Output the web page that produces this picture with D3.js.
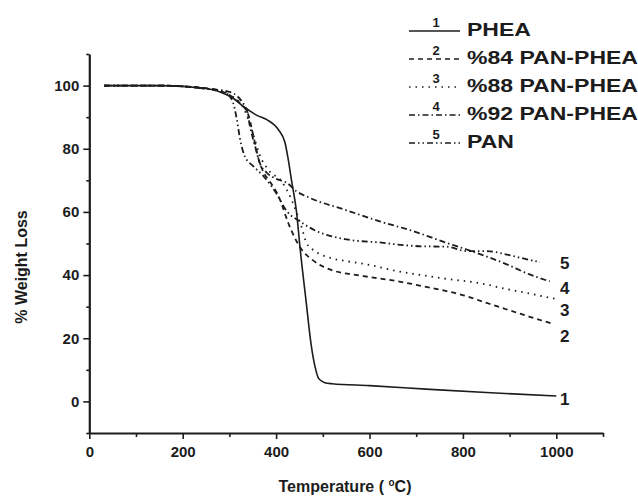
<!DOCTYPE html>
<html>
<head>
<meta charset="utf-8">
<script src="https://cdn.jsdelivr.net/npm/d3@7"></script>
<style>
  html, body { margin: 0; padding: 0; background: #ffffff; }
  svg { display: block; }
</style>
</head>
<body>
<div id="chart"></div>
<script>
// TGA curves, [temperature °C, weight %]
const phea = [[32,100],[150,100],[237,99.3],[280,98],[308,96],[330,93.4],[360,90.5],[380,89.2],[405,86],
    [419,82],[426,76.6],[433,70],[444,59.7],[451,49],[464,32],[475,18],[485,10],[491,7.3],[503,6],
    [520,5.6],[600,5],[730,3.8],[850,2.8],[1000,1.7]];
const pan84 = [[32,100],[150,100],[250,99.2],[300,97],[325,94],[340,91],[350,85],[362,77],[375,72],
    [385,70],[408,64],[426,56.5],[455,48],[476,45],[515,41.8],[587,39.7],[658,38.1],[730,36],
    [801,33.6],[822,32.6],[894,29.1],[943,26.8],[990,24.7]];
const pan88 = [[32,100],[150,100],[250,99],[300,97],[330,93],[350,85],[365,78],[385,73],[410,70],
    [433,63.9],[455,55],[465,50.2],[483,47.6],[515,45.5],[551,44.4],[594,43.4],[651,41.5],
    [751,39.1],[851,37],[880,36],[951,33.9],[997,32.5]];
const pan92 = [[32,100],[150,100],[250,99],[300,98],[337,92.4],[344,87.1],[355,80.8],[365,75.5],
    [380,72.4],[400,70.5],[423,69.2],[444,66.5],[473,64.4],[551,60.5],[622,57],[694,53.9],
    [765,50.2],[808,48.1],[894,43.4],[943,40.2],[986,38]];
const pan = [[32,100],[150,100],[250,99],[290,98],[308,94.5],[316,89.2],[323,82.9],[333,77.6],
    [351,74.5],[373,71.3],[400,66],[423,60.2],[451,57],[487,53.9],[551,51.3],[630,50.2],
    [658,49.7],[715,49.1],[765,49],[808,47.6],[851,47.6],[894,46.5],[922,45.5],[965,44.1]];

const seriesNames = ["PHEA", "%84 PAN-PHEA", "%88 PAN-PHEA", "%92 PAN-PHEA", "PAN"];
const seriesData = [phea, pan84, pan88, pan92, pan];
const dashes = ["none", "5,4", "1.5,5", "6,3,1.5,3", "6,3,1.5,3,1.5,3"];

const xMajor = [0, 200, 400, 600, 800, 1000];
const xMinor = [100, 300, 500, 700, 900, 1100];
const yMajor = [0, 20, 40, 60, 80, 100];
const yMinor = [-10, 10, 30, 50, 70, 90, 110];

const width = 638, height = 496;
const ink = "#1c1c1c";

const svg = d3.select("#chart")
    .append("svg")
        .attr("width", width)
        .attr("height", height)
        .attr("viewBox", `0 0 ${width} ${height}`);

const xScale = d3.scaleLinear()
    .domain([0, 1100])
    .range([89.3, 603]);

const yScale = d3.scaleLinear()
    .domain([-10, 110])
    .range([433, 54]);

const tickFont = "'Liberation Sans', Arial, sans-serif";

// Axes: minor ticks first, then majors with labels
svg.append("g")
    .attr("transform", `translate(0, ${yScale(-10)})`)
    .call(d3.axisBottom(xScale).tickValues(xMinor).tickSize(4).tickSizeOuter(0).tickFormat(""))
    .call(g => g.select(".domain").remove());

svg.append("g")
    .attr("transform", `translate(${xScale(0)}, 0)`)
    .call(d3.axisLeft(yScale).tickValues(yMinor).tickSize(3).tickSizeOuter(0).tickFormat(""))
    .call(g => g.select(".domain").remove());

svg.append("g")
    .attr("transform", `translate(0, ${yScale(-10)})`)
    .call(d3.axisBottom(xScale).tickValues(xMajor).tickSize(6).tickSizeOuter(0)
        .tickPadding(7).tickFormat(d3.format("d")));

svg.append("g")
    .attr("transform", `translate(${xScale(0)}, 0)`)
    .call(d3.axisLeft(yScale).tickValues(yMajor).tickSize(6).tickSizeOuter(0)
        .tickPadding(4).tickFormat(d3.format("d")));

svg.selectAll(".tick line").attr("stroke", ink).attr("stroke-width", 1.6);
svg.selectAll(".domain").attr("stroke", ink).attr("stroke-width", 2.2);
svg.selectAll(".tick text")
    .style("font-family", tickFont)
    .style("font-weight", "bold")
    .style("font-size", "15px")
    .attr("fill", ink);

// Curves
const line = d3.line()
    .x(d => xScale(d[0]))
    .y(d => yScale(d[1]))
    .curve(d3.curveMonotoneX);

svg.append("g")
    .selectAll("path")
    .data(seriesData)
    .join("path")
        .attr("d", line)
        .attr("fill", "none")
        .attr("stroke", ink)
        .attr("stroke-width", (d, i) => i === 0 ? 1.6 : 1.8)
        .attr("stroke-dasharray", (d, i) => dashes[i]);

// Numbers at the right end of the curves
const endLabelY = [399, 336, 310, 288, 263];
svg.append("g")
    .selectAll("text")
    .data(seriesData)
    .join("text")
        .text((d, i) => i + 1)
        .attr("x", 560)
        .attr("y", (d, i) => endLabelY[i] + 6)
        .style("font-family", tickFont)
        .style("font-weight", "bold")
        .style("font-size", "17px")
        .attr("fill", ink);

// Legend
const legend = svg.append("g")
    .selectAll("g")
    .data(seriesNames)
    .join("g")
        .attr("transform", (d, i) => `translate(0, ${29 + i * 28})`);

legend.append("line")
    .attr("x1", 409)
    .attr("x2", 460)
    .attr("y1", 2)
    .attr("y2", 2)
    .attr("stroke", ink)
    .attr("stroke-width", 1.6)
    .attr("stroke-dasharray", (d, i) => dashes[i]);

legend.append("text")
    .text((d, i) => i + 1)
    .attr("x", 436)
    .attr("y", -2)
    .attr("text-anchor", "middle")
    .style("font-family", tickFont)
    .style("font-weight", "bold")
    .style("font-size", "13px")
    .attr("fill", ink);

legend.append("text")
    .text(d => d)
    .attr("transform", "translate(467, 6.5) scale(1.28, 1)")
    .style("font-family", tickFont)
    .style("font-weight", "bold")
    .style("font-size", "18px")
    .attr("fill", ink);

// Axis titles
svg.append("text")
    .attr("x", 345)
    .attr("y", 492)
    .attr("text-anchor", "middle")
    .style("font-family", tickFont)
    .style("font-weight", "bold")
    .style("font-size", "16px")
    .attr("fill", ink)
    .call(t => {
        t.append("tspan").text("Temperature ( ");
        t.append("tspan").text("o").attr("dy", -6).style("font-size", "10px");
        t.append("tspan").text("C)").attr("dy", 6);
    });

svg.append("text")
    .attr("transform", "translate(27, 267) rotate(-90)")
    .attr("text-anchor", "middle")
    .style("font-family", tickFont)
    .style("font-weight", "bold")
    .style("font-size", "16px")
    .attr("fill", ink)
    .text("% Weight Loss");
</script>
</body>
</html>
